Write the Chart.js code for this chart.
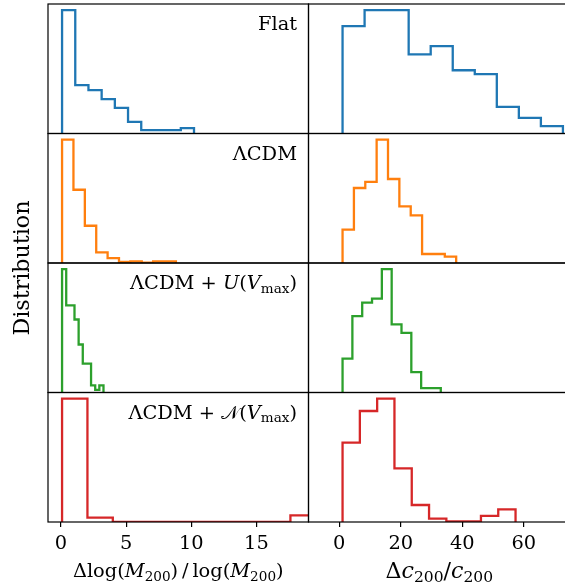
<!DOCTYPE html>
<html>
<head>
<meta charset="utf-8">
<script src="https://cdn.jsdelivr.net/npm/chart.js@4/dist/chart.umd.min.js"></script>
<style>
  html, body { margin: 0; padding: 0; background: #fff; overflow: hidden; }
  #grid { position: relative; width: 565px; height: 588px; overflow: hidden; background: #fff; }
  #grid canvas { position: absolute; left: 0; top: 0; }
</style>
</head>
<body>
<div id="grid"></div>
<script>
// Axis ticks and limits shared down each column
const massTicks = [0, 5, 10, 15];
const concTicks = [0, 20, 40, 60];
const massLimits = [-1, 19];
const concLimits = [-10, 75];

// Row labels
const modelNames = ['Flat', 'ΛCDM', 'ΛCDM + U(Vmax)', 'ΛCDM + 𝒩(Vmax)'];

// Histogram heights (normalised to the tallest bin) and bin ranges
const flatMass = [1.0, 0.392, 0.351, 0.278, 0.208, 0.094, 0.027, 0.027, 0.027, 0.043];
const flatMassRange = [0.08, 10.21];
const flatConc = [0.870, 1.0, 1.0, 0.641, 0.708, 0.513, 0.481, 0.216, 0.127, 0.059];
const flatConcRange = [1.07, 72.7];

const lcdmMass = [1.0, 0.594, 0.302, 0.086, 0.040, 0.008, 0.013, 0.003, 0.013, 0.013];
const lcdmMassRange = [0.08, 8.82];
const lcdmConc = [0.270, 0.608, 0.657, 1.0, 0.681, 0.459, 0.386, 0.073, 0.073, 0.051];
const lcdmConcRange = [1.07, 38.0];

const uniMass = [1.0, 0.707, 0.707, 0.592, 0.389, 0.234, 0.234, 0.057, 0.022, 0.057];
const uniMassRange = [0.08, 3.26];
const uniConc = [0.275, 0.620, 0.729, 0.761, 1.0, 0.552, 0.484, 0.166, 0.035, 0.035];
const uniConcRange = [1.07, 33.0];

const normMass = [1.0, 0.035, 0, 0, 0, 0, 0, 0, 0, 0.054];
const normMassRange = [0.08, 19.56];
const normConc = [0.644, 0.900, 1.0, 0.435, 0.138, 0.027, 0.004, 0.004, 0.049, 0.103];
const normConcRange = [1.07, 57.3];

// ---- layout ----
const CANVAS_W = 580, CANVAS_H = 588;
const COLS = [[48, 308.5], [308.5, 570]];
const ROWS = [[4, 133.5], [133.5, 263], [263, 392.5], [392.5, 522]];
const COLORS = ['#1f77b4', '#ff7f0e', '#2ca02c', '#d62728'];
const SERIF = '"DejaVu Serif", "Liberation Serif", serif';
const TEXT_PX = 19.4;
const BIG_PX = 22.2;

// Step outline of a histogram with evenly spaced bins over [lo, hi]
function histPoints(values, range) {
  const n = values.length, w = (range[1] - range[0]) / n;
  const pts = [{ x: range[0], y: 0 }];
  values.forEach((v, i) => pts.push({ x: range[0] + i * w, y: v }));
  pts.push({ x: range[1], y: 0 });
  return pts;
}

// Draws a sequence of text runs (mixed italic / subscripts) from one anchor
function drawRuns(ctx, runs, x, y, align) {
  const parts = runs.map(r => {
    const size = r.size || TEXT_PX;
    const font = (r.italic ? 'italic ' : '') + size + 'px ' + (r.family || SERIF);
    ctx.font = font;
    return { text: r.t, font, dy: r.dy || 0, w: ctx.measureText(r.t).width };
  });
  const total = parts.reduce((s, p) => s + p.w, 0);
  let cx = align === 'right' ? x - total : align === 'center' ? x - total / 2 : x;
  ctx.textAlign = 'left';
  ctx.textBaseline = 'alphabetic';
  parts.forEach(p => { ctx.font = p.font; ctx.fillText(p.text, cx, y + p.dy); cx += p.w; });
}

const sub = (t, s) => ({ t, size: s * 0.7, dy: s * 0.2 });
const labelRuns = [
  [{ t: modelNames[0] }],
  [{ t: modelNames[1] }],
  [{ t: 'ΛCDM + ' }, { t: 'U', italic: true }, { t: '(' }, { t: 'V', italic: true }, sub('max', TEXT_PX), { t: ')' }],
  [{ t: 'ΛCDM + ' }, { t: '𝒩', family: '"DejaVu Serif", "DejaVu Sans", "Noto Sans", serif' }, { t: '(' }, { t: 'V', italic: true }, sub('max', TEXT_PX), { t: ')' }]
];
const massTitle = [{ t: 'Δlog(' }, { t: 'M', italic: true }, sub('200', TEXT_PX), { t: ')\u2009/\u2009log(' }, { t: 'M', italic: true }, sub('200', TEXT_PX), { t: ')' }];
const concTitle = [{ t: 'Δ', size: BIG_PX }, { t: 'c', italic: true, size: BIG_PX }, sub('200', BIG_PX), { t: '/', size: BIG_PX }, { t: 'c', italic: true, size: BIG_PX }, sub('200', BIG_PX)];

const grid = document.getElementById('grid');

function makePanel(row, col, values, range) {
  const canvas = document.createElement('canvas');
  canvas.width = CANVAS_W; canvas.height = CANVAS_H;
  grid.appendChild(canvas);
  const [left, right] = COLS[col];
  const [top, bottom] = ROWS[row];
  const isBottom = row === ROWS.length - 1;
  const axisH = 60;
  const lims = col === 0 ? massLimits : concLimits;
  const ticks = col === 0 ? massTicks : concTicks;

  const panelText = {
    id: 'panelText',
    afterDraw(chart) {
      const { ctx, chartArea: a } = chart;
      ctx.save();
      // frame
      ctx.strokeStyle = '#000';
      ctx.lineWidth = 1.2;
      ctx.strokeRect(a.left, a.top, a.right - a.left, a.bottom - a.top);
      ctx.fillStyle = '#000';
      if (col === 0) drawRuns(ctx, labelRuns[row], a.right - 11.5, a.top + 26, 'right');
      if (isBottom) {
        const mid = (a.left + a.right) / 2;
        if (col === 0) drawRuns(ctx, massTitle, mid, 576.7, 'center');
        else drawRuns(ctx, concTitle, mid, 578, 'center');
      }
      if (row === 0 && col === 0) {
        // shared y title down the left edge
        ctx.translate(29, 268);
        ctx.rotate(-Math.PI / 2);
        ctx.font = BIG_PX + 'px ' + SERIF;
        ctx.textAlign = 'center';
        ctx.textBaseline = 'alphabetic';
        ctx.fillText('Distribution', 0, 0);
      }
      ctx.restore();
    }
  };

  new Chart(canvas, {
    type: 'line',
    data: {
      datasets: [{
        data: histPoints(values, range),
        borderColor: COLORS[row],
        borderWidth: 2.3,
        pointRadius: 0,
        stepped: true,
        fill: false,
        borderJoinStyle: 'miter',
        borderCapStyle: 'butt'
      }]
    },
    options: {
      responsive: false,
      animation: false,
      devicePixelRatio: 1,
      events: [],
      layout: {
        padding: {
          left: left,
          right: CANVAS_W - right,
          top: top,
          bottom: isBottom ? CANVAS_H - bottom - axisH : CANVAS_H - bottom
        }
      },
      plugins: { legend: { display: false }, tooltip: { enabled: false } },
      scales: {
        x: {
          type: 'linear',
          min: lims[0],
          max: lims[1],
          display: isBottom,
          afterBuildTicks: s => { s.ticks = ticks.map(v => ({ value: v })); },
          afterFit: s => { s.height = isBottom ? axisH : 0; },
          grid: { drawOnChartArea: false, drawTicks: true, tickLength: 5, color: '#000', lineWidth: 1.2 },
          border: { display: false },
          ticks: {
            font: { family: SERIF, size: TEXT_PX },
            color: '#000',
            padding: 5,
            maxRotation: 0,
            autoSkip: false
          }
        },
        y: { type: 'linear', min: 0, max: 1.05, display: false }
      }
    },
    plugins: [panelText]
  });
}

const massSeries = [[flatMass, flatMassRange], [lcdmMass, lcdmMassRange], [uniMass, uniMassRange], [normMass, normMassRange]];
const concSeries = [[flatConc, flatConcRange], [lcdmConc, lcdmConcRange], [uniConc, uniConcRange], [normConc, normConcRange]];
massSeries.forEach(([v, r], i) => makePanel(i, 0, v, r));
concSeries.forEach(([v, r], i) => makePanel(i, 1, v, r));
</script>
</body>
</html>
